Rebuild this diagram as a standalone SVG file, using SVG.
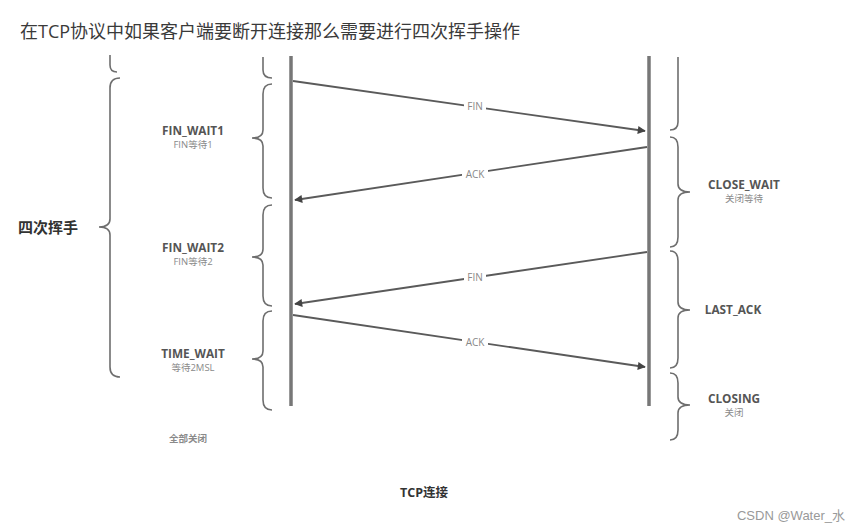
<svg xmlns="http://www.w3.org/2000/svg" width="865" height="532" viewBox="0 0 865 532">
<defs>
<marker id="ah" viewBox="0 0 10 10" refX="9" refY="5" markerWidth="10" markerHeight="8" markerUnits="userSpaceOnUse" orient="auto">
<path d="M0,0 L10,5 L0,10 z" fill="#444"/>
</marker>
<style>
.t{font-family:"Open Sans","Noto Sans CJK SC",sans-serif;}
.state{font-size:11.8px;font-weight:bold;fill:#555;text-anchor:middle;}
.sub{font-size:9.5px;fill:#8a8a8a;text-anchor:middle;}
.msg{font-size:10px;fill:#888;text-anchor:middle;}
.brace{fill:none;stroke:#6e6e6e;stroke-width:1.6;}
.life{stroke:#777;stroke-width:3.5;}
.arr{stroke:#5a5a5a;stroke-width:1.8;fill:none;marker-end:url(#ah);}
.lbg{fill:#fff;}
</style>
</defs>
<rect width="865" height="532" fill="#fff"/>
<text class="t" x="20" y="38" font-size="18" fill="#3a3a3a">在TCP协议中如果客户端要断开连接那么需要进行四次挥手操作</text>

<g id="lifelines">
<line class="life" x1="291" y1="56" x2="291" y2="406"/>
<line class="life" x1="649" y1="56" x2="649" y2="406"/>
</g>

<g id="connectors">
<line class="arr" x1="293" y1="81" x2="645" y2="131"/>
<line class="arr" x1="647" y1="147" x2="295" y2="200"/>
<line class="arr" x1="647" y1="252" x2="295" y2="304"/>
<line class="arr" x1="293" y1="315" x2="645" y2="367"/>
<rect class="lbg" x="464" y="101" width="22" height="12"/>
<text class="t msg" x="475" y="110">FIN</text>
<rect class="lbg" x="462" y="169" width="26" height="12"/>
<text class="t msg" x="475" y="178">ACK</text>
<rect class="lbg" x="464" y="272" width="22" height="12"/>
<text class="t msg" x="475" y="281">FIN</text>
<rect class="lbg" x="462" y="337" width="26" height="12"/>
<text class="t msg" x="475" y="346">ACK</text>
</g>

<g id="braces-left">
<path class="brace" d="M110,55 L110,65 Q110,72 117,72"/>
<path class="brace" d="M120,78 Q110,78 110,88 L110,219 Q110,227 99,227 Q110,227 110,235 L110,367 Q110,377 120,377"/>
<path class="brace" d="M263,57 L263,70 Q263,78 272,78"/>
<path class="brace" d="M272,84 Q263,84 263,94 L263,130 Q263,138 252,138 Q263,138 263,146 L263,188 Q263,198 272,198"/>
<path class="brace" d="M272,205 Q263,205 263,215 L263,249 Q263,257 252,257 Q263,257 263,265 L263,296 Q263,306 272,306"/>
<path class="brace" d="M272,311 Q263,311 263,321 L263,351 Q263,359 252,359 Q263,359 263,367 L263,400 Q263,410 272,410"/>
</g>

<g id="braces-right">
<path class="brace" d="M678,57 L678,122 Q678,130 670,130"/>
<path class="brace" d="M670,137 Q678,137 678,147 L678,184 Q678,192 690,192 Q678,192 678,200 L678,237 Q678,247 670,247"/>
<path class="brace" d="M670,251 Q678,251 678,261 L678,302 Q678,310 690,310 Q678,310 678,318 L678,358 Q678,368 670,368"/>
<path class="brace" d="M670,373 Q678,373 678,383 L678,397 Q678,405 690,405 Q678,405 678,413 L678,430 Q678,440 670,440"/>
</g>

<g id="node-four-wave">
<text class="t" x="48" y="233" font-size="15" font-weight="bold" fill="#333" text-anchor="middle">四次挥手</text>
</g>
<g id="node-fin-wait1">
<text class="t state" x="193" y="135">FIN_WAIT1</text>
<text class="t sub" x="193" y="148">FIN等待1</text>
</g>
<g id="node-fin-wait2">
<text class="t state" x="193" y="252">FIN_WAIT2</text>
<text class="t sub" x="193" y="265">FIN等待2</text>
</g>
<g id="node-time-wait">
<text class="t state" x="193" y="358">TIME_WAIT</text>
<text class="t sub" x="193" y="371">等待2MSL</text>
</g>
<g id="node-all-closed">
<text class="t sub" x="188" y="442" font-weight="bold" fill="#666">全部关闭</text>
</g>
<g id="node-close-wait">
<text class="t state" x="744" y="189">CLOSE_WAIT</text>
<text class="t sub" x="744" y="202">关闭等待</text>
</g>
<g id="node-last-ack">
<text class="t state" x="733" y="314">LAST_ACK</text>
</g>
<g id="node-closing">
<text class="t state" x="734" y="403">CLOSING</text>
<text class="t sub" x="734" y="416">关闭</text>
</g>
<g id="node-tcp">
<text class="t" x="424" y="497" font-size="12.5" font-weight="bold" fill="#333" text-anchor="middle">TCP连接</text>
</g>
<text x="791" y="520" font-family="'Liberation Sans','Noto Sans CJK SC',sans-serif" font-size="13" fill="#999" text-anchor="middle">CSDN @Water_水</text>
</svg>
